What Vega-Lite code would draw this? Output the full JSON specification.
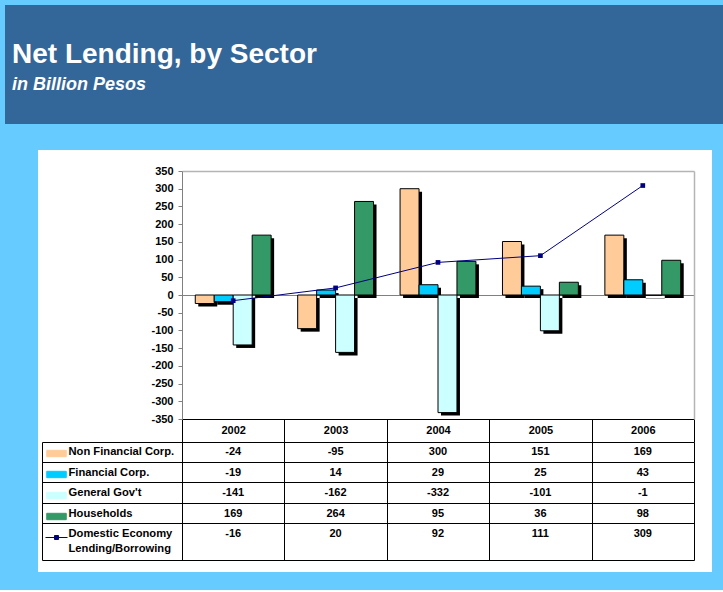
{
  "$schema": "https://vega.github.io/schema/vega-lite/v6.json",
  "background": "#66CCFF",
  "padding": {"left": -21, "top": 5, "right": 0, "bottom": 18},
  "bounds": "flush",
  "spacing": 59,
  "config": {
    "view": {"stroke": null},
    "font": "Liberation Sans",
    "axis": {"labelFont": "Liberation Sans", "labelFontWeight": "bold", "labelFontSize": 11, "labelColor": "black", "title": null, "minExtent": 0, "maxExtent": 0}
  },
  "datasets": {
    "all": [
      {"year": "2002", "series": "Non Financial Corp.", "value": -24},
      {"year": "2003", "series": "Non Financial Corp.", "value": -95},
      {"year": "2004", "series": "Non Financial Corp.", "value": 300},
      {"year": "2005", "series": "Non Financial Corp.", "value": 151},
      {"year": "2006", "series": "Non Financial Corp.", "value": 169},
      {"year": "2002", "series": "Financial Corp.", "value": -19},
      {"year": "2003", "series": "Financial Corp.", "value": 14},
      {"year": "2004", "series": "Financial Corp.", "value": 29},
      {"year": "2005", "series": "Financial Corp.", "value": 25},
      {"year": "2006", "series": "Financial Corp.", "value": 43},
      {"year": "2002", "series": "General Gov't", "value": -141},
      {"year": "2003", "series": "General Gov't", "value": -162},
      {"year": "2004", "series": "General Gov't", "value": -332},
      {"year": "2005", "series": "General Gov't", "value": -101},
      {"year": "2006", "series": "General Gov't", "value": -1},
      {"year": "2002", "series": "Households", "value": 169},
      {"year": "2003", "series": "Households", "value": 264},
      {"year": "2004", "series": "Households", "value": 95},
      {"year": "2005", "series": "Households", "value": 36},
      {"year": "2006", "series": "Households", "value": 98},
      {"year": "2002", "series": "Domestic Economy Lending/Borrowing", "value": -16},
      {"year": "2003", "series": "Domestic Economy Lending/Borrowing", "value": 20},
      {"year": "2004", "series": "Domestic Economy Lending/Borrowing", "value": 92},
      {"year": "2005", "series": "Domestic Economy Lending/Borrowing", "value": 111},
      {"year": "2006", "series": "Domestic Economy Lending/Borrowing", "value": 309}
    ]
  },
  "vconcat": [
    {
      "width": 652,
      "height": 53,
      "view": {"fill": "#336699", "stroke": "#336699", "strokeWidth": 66},
      "title": {
        "text": "Net Lending, by Sector",
        "subtitle": "in Billion Pesos",
        "anchor": "start",
        "orient": "top",
        "frame": "group",
        "offset": -56,
        "dx": -26,
        "baseline": "top",
        "font": "Liberation Sans",
        "fontSize": 28,
        "fontWeight": "bold",
        "color": "white",
        "subtitleFont": "Liberation Sans",
        "subtitleFontSize": 18,
        "subtitleFontWeight": "bold",
        "subtitleFontStyle": "italic",
        "subtitleColor": "white",
        "subtitlePadding": 7
      },
      "data": {"values": [{"t": ""}]},
      "mark": {"type": "text"},
      "encoding": {"text": {"field": "t", "type": "nominal"}}
    },
    {
      "width": 674,
      "height": 422,
      "view": {"fill": "white", "stroke": null},
      "data": {"name": "all"},
      "resolve": {"scale": {"x": "independent", "y": "independent"}, "axis": {"x": "independent", "y": "independent"}},
      "layer": [
        {
          "transform": [{"filter": "datum.series != 'Domestic Economy Lending/Borrowing'"}],
          "mark": {"type": "bar", "color": "black", "yOffset": 3, "y2Offset": 3},
          "encoding": {
            "x": {
              "field": "year", "type": "nominal",
              "scale": {"type": "band", "range": [147, 659], "paddingInner": 0, "paddingOuter": 0},
              "axis": null
            },
            "xOffset": {
              "field": "series", "type": "nominal",
              "sort": ["Non Financial Corp.", "Financial Corp.", "General Gov't", "Households"],
              "scale": {"paddingInner": 0, "paddingOuter": 0.7}
            },
            "y": {
              "field": "value", "type": "quantitative",
              "scale": {"domain": [-350, 350], "range": [269, 21], "nice": false, "zero": false},
              "axis": null
            }
          }
        },
        {
          "transform": [{"filter": "datum.series != 'Domestic Economy Lending/Borrowing'"}],
          "mark": {"type": "bar", "stroke": "black", "strokeWidth": 1},
          "encoding": {
            "x": {
              "field": "year", "type": "nominal",
              "scale": {"type": "band", "range": [144, 656], "paddingInner": 0, "paddingOuter": 0},
              "axis": {
                "orient": "bottom", "offset": -153, "title": null,
                "domainColor": "black", "domainWidth": 1,
                "tickBand": "extent", "tickColor": "black", "tickSize": 23, "tickWidth": 1,
                "labelAngle": 0, "labelPadding": -11.5, "labelBaseline": "middle",
                "grid": false
              }
            },
            "xOffset": {
              "field": "series", "type": "nominal",
              "sort": ["Non Financial Corp.", "Financial Corp.", "General Gov't", "Households"],
              "scale": {"paddingInner": 0, "paddingOuter": 0.7}
            },
            "y": {
              "field": "value", "type": "quantitative",
              "scale": {"domain": [-350, 350], "range": [269, 21], "nice": false, "zero": false},
              "axis": {
                "orient": "left", "offset": -144, "title": null,
                "values": [-350, -300, -250, -200, -150, -100, -50, 0, 50, 100, 150, 200, 250, 300, 350],
                "labelExpr": "'' + datum.value",
                "domainColor": "#808080", "tickColor": "#808080", "tickSize": 4, "labelPadding": 5,
                "grid": true, "gridColor": "#808080",
                "gridOpacity": {"condition": {"test": "datum.value === 0", "value": 1}, "value": 0}
              }
            },
            "color": {
              "field": "series", "type": "nominal",
              "scale": {
                "domain": ["Non Financial Corp.", "Financial Corp.", "General Gov't", "Households", "Domestic Economy Lending/Borrowing"],
                "range": ["#FFCC99", "#00CCFF", "#CCFFFF", "#339966", "#000080"]
              },
              "legend": {
                "orient": "none", "legendX": 10, "legendY": 407, "title": null,
                "symbolType": "M-1.22,-0.4H1.22V0.4H-1.22Z", "symbolSize": 256,
                "symbolStrokeColor": "black", "symbolStrokeWidth": 1,
                "labelExpr": "''", "rowPadding": 7, "padding": 0, "labelOffset": 0,
                "encode": {
                  "symbols": {
                    "update": {
                      "shape": {"signal": "datum.index === 4 ? 'M-1.375,0H1.375M-0.25,-0.25H0.25V0.25H-0.25Z' : 'M-1.22,-0.4H1.22V0.4H-1.22Z'"},
                      "stroke": {"signal": "datum.index === 4 ? '#000080' : 'black'"},
                      "fill": {"signal": "['#FFCC99','#00CCFF','#CCFFFF','#339966','#000080'][datum.index]"},
                      "strokeWidth": {"value": 1},
                      "strokeOpacity": {"value": 1},
                      "fillOpacity": {"value": 1},
                      "opacity": {"value": 1}
                    }
                  }
                }
              }
            }
          }
        },
        {
          "mark": {"type": "text", "font": "Liberation Sans", "fontWeight": "bold", "fontSize": 11, "color": "black"},
          "encoding": {
            "x": {
              "field": "year", "type": "nominal",
              "scale": {"type": "band", "range": [4, 656], "paddingInner": 0, "paddingOuter": 0.68359, "align": 1},
              "axis": {
                "orient": "bottom", "offset": -12, "title": null,
                "labels": false, "ticks": true, "tickSize": -118, "tickColor": "black", "tickWidth": 1, "tickBand": "extent",
                "domainColor": "black", "domainWidth": 1, "grid": false
              }
            },
            "y": {
              "field": "series", "type": "nominal",
              "sort": ["Non Financial Corp.", "Financial Corp.", "General Gov't", "Households", "Domestic Economy Lending/Borrowing"],
              "scale": {"type": "band", "range": [292, 410], "paddingInner": 0, "paddingOuter": 0.37805, "align": 0},
              "axis": {
                "orient": "left", "offset": -4, "title": null,
                "ticks": false, "tickSize": 0, "domainColor": "black", "domainWidth": 1,
                "grid": true, "gridColor": "black", "gridWidth": 1, "bandPosition": 0,
                "labelAlign": "left", "labelPadding": -26, "labelBaseline": "middle",
                "labelFontSize": 11.2, "labelLineHeight": 15,
                "labelExpr": "datum.value === 'Domestic Economy Lending/Borrowing' ? ['Domestic Economy', 'Lending/Borrowing'] : datum.label",
                "encode": {"labels": {"update": {"dy": {"signal": "datum.value === 'Domestic Economy Lending/Borrowing' ? 9 : 0"}}}}
              }
            },
            "text": {"field": "value", "type": "nominal"}
          }
        },
        {
          "transform": [{"filter": "datum.series == 'Domestic Economy Lending/Borrowing'"}],
          "encoding": {
            "x": {
              "field": "year", "type": "nominal",
              "scale": {"type": "band", "range": [144, 656], "paddingInner": 0, "paddingOuter": 0},
              "axis": {"orient": "top", "offset": -21, "title": null, "labels": false, "ticks": false, "domainColor": "#B4B4B4", "domainWidth": 1.5, "grid": false}
            },
            "y": {
              "field": "value", "type": "quantitative",
              "scale": {"domain": [-350, 350], "range": [269, 21], "nice": false, "zero": false},
              "axis": {"orient": "right", "offset": -18, "title": null, "labels": false, "ticks": false, "domainColor": "#B4B4B4", "domainWidth": 1.5, "grid": false}
            },
            "color": {"field": "series", "type": "nominal"}
          },
          "layer": [
            {"mark": {"type": "line", "strokeWidth": 1}},
            {"mark": {"type": "point", "shape": "square", "filled": true, "size": 22, "opacity": 1}}
          ]
        }
      ]
    }
  ]
}
